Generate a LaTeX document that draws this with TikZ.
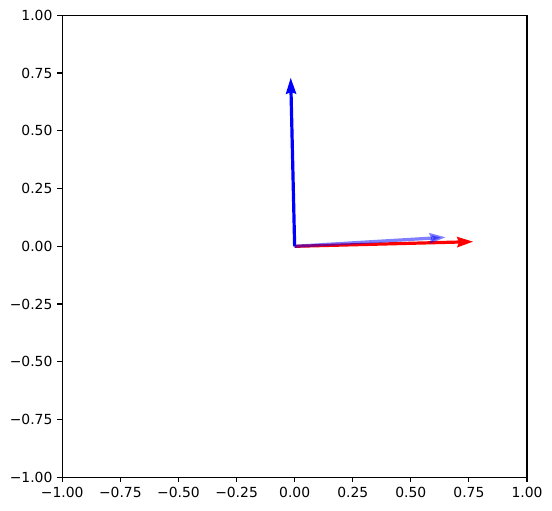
\documentclass[tikz,border=0pt]{standalone}
\usepackage{fontspec}
\setmainfont{DejaVu Sans}
\usetikzlibrary{arrows.meta}

\begin{document}
\begin{tikzpicture}[
    x=232.35bp, y=231bp,
    frame/.style={line width=1.1bp},
    tick/.style={line width=1.1bp},
    ticklabel/.style={inner sep=0pt, font=\fontsize{13.9bp}{16bp}\selectfont},
    vec/.style={
        line width=3.2bp,
        -{Stealth[length=16bp, width=10bp, inset=1.6bp]}
    }
]

% keep the margins of the figure
\useasboundingbox (-1.2681,-1.1459) rectangle (1.1076,1.0662);

% axes box
\draw[frame] (-1,-1) rectangle (1,1);

% ticks and tick labels
\foreach \v/\t [count=\i] in {-1/−1.00, -0.75/−0.75, -0.5/−0.50, -0.25/−0.25,
    0/0.00, 0.25/0.25, 0.5/0.50, 0.75/0.75, 1/1.00} {
    \draw[tick] (\v,-1) -- ++(0,-4.86bp);
    \node[ticklabel, anchor=north] (xlab\i) at ([yshift=-9.72bp]\v,-1) {\t};
    \draw[tick] (-1,\v) -- ++(-4.86bp,0);
    \node[ticklabel, anchor=east] (ylab\i) at ([xshift=-9.72bp]-1,\v) {\t};
}

% vectors
\coordinate (o) at (0,0);
\coordinate (redtip) at (0.769,0.020);
\coordinate (bluetip) at (-0.017,0.730);
\coordinate (lighttip) at (0.650,0.039);

\draw[vec, red] (o) -- (redtip);
\draw[vec, blue] (o) -- (bluetip);
\draw[vec, blue, opacity=0.5] (o) -- (lighttip);

\end{tikzpicture}
\end{document}
